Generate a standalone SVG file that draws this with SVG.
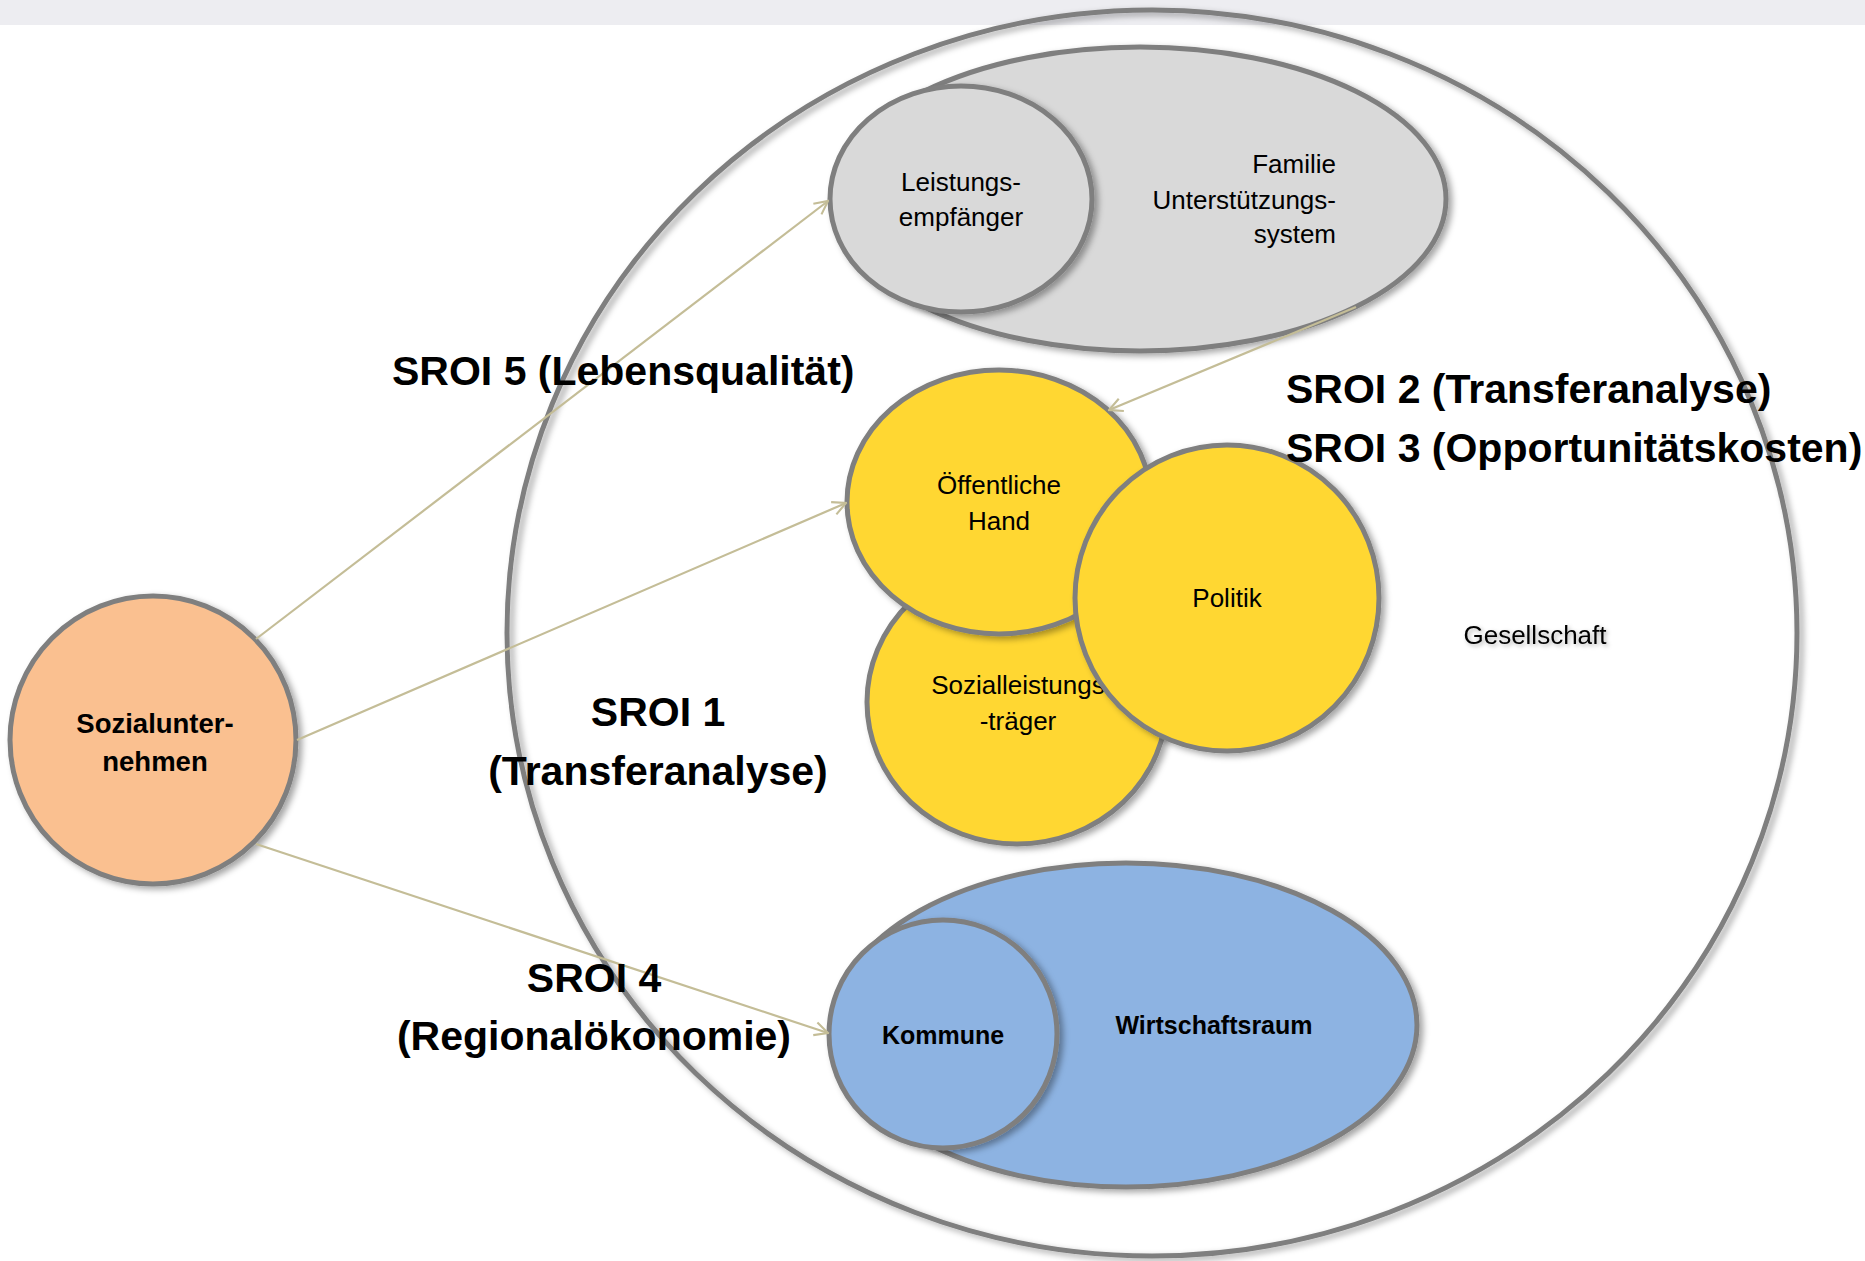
<svg xmlns="http://www.w3.org/2000/svg" width="1865" height="1261" viewBox="0 0 1865 1261">
<defs>
<filter id="sh" x="-10%" y="-10%" width="125%" height="125%">
<feDropShadow dx="4" dy="3" stdDeviation="3" flood-color="#000" flood-opacity="0.35"/>
</filter>
<filter id="tsh" x="-10%" y="-30%" width="125%" height="170%">
<feDropShadow dx="2" dy="2" stdDeviation="2" flood-color="#000" flood-opacity="0.3"/>
</filter>
<marker id="arr" viewBox="0 0 12 12" refX="11" refY="6" markerWidth="16" markerHeight="16" markerUnits="userSpaceOnUse" orient="auto">
<path d="M1,1 L11,6 L1,11" fill="none" stroke="#C4BD97" stroke-width="1.6"/>
</marker>
<style>
.shape{stroke:#7F7F7F;stroke-width:5;filter:url(#sh)}
.gray{fill:#D9D9D9}
.yel{fill:#FFD733}
.blue{fill:#8DB3E2}
.org{fill:#FAC090}
.t{font-family:"Liberation Sans",Arial,sans-serif;font-size:26px;fill:#000;text-anchor:middle}
.b{font-weight:bold}
.big{font-family:"Liberation Sans",Arial,sans-serif;font-size:41px;font-weight:bold;fill:#000}
.con{stroke:#C4BD97;stroke-width:2.2;fill:none;marker-end:url(#arr)}
</style>
</defs>
<rect x="0" y="0" width="1865" height="1261" fill="#FFFFFF"/>
<rect x="0" y="0" width="1865" height="25" fill="#EDEDF1"/>

<g id="gesellschaft">
<ellipse cx="1152" cy="633" rx="645" ry="623" fill="none" class="shape"/>
<text x="1535" y="644" class="t" style="font-size:26px" filter="url(#tsh)">Gesellschaft</text>
</g>

<g id="familie">
<ellipse cx="1140" cy="199" rx="306" ry="152" class="shape gray"/>
<text class="t" style="text-anchor:end" font-size="27"><tspan x="1336" y="173">Familie</tspan><tspan x="1336" y="209">Unterstützungs-</tspan><tspan x="1336" y="243">system</tspan></text>
</g>

<g id="leistungsempfaenger">
<ellipse cx="961" cy="199" rx="131" ry="113" class="shape gray"/>
<text class="t"><tspan x="961" y="191">Leistungs-</tspan><tspan x="961" y="226">empfänger</tspan></text>
</g>

<g id="sozialleistungstraeger">
<ellipse cx="1017" cy="702" rx="150" ry="142" class="shape yel"/>
<text class="t"><tspan x="1018" y="694">Sozialleistungs</tspan><tspan x="1018" y="730">-träger</tspan></text>
</g>

<g id="oeffentliche-hand">
<ellipse cx="999" cy="502" rx="152" ry="132" class="shape yel"/>
<text class="t"><tspan x="999" y="494">Öffentliche</tspan><tspan x="999" y="530">Hand</tspan></text>
</g>

<g id="politik">
<ellipse cx="1227" cy="598" rx="152" ry="153" class="shape yel"/>
<text x="1227" y="607" class="t">Politik</text>
</g>

<g id="wirtschaftsraum">
<ellipse cx="1126" cy="1025" rx="291" ry="162" class="shape blue"/>
<text x="1214" y="1034" class="t b" style="font-size:25px">Wirtschaftsraum</text>
</g>

<g id="kommune">
<ellipse cx="943" cy="1034" rx="114" ry="114" class="shape blue"/>
<text x="943" y="1044" class="t b" style="font-size:25px">Kommune</text>
</g>

<g id="sozialunternehmen">
<ellipse cx="153" cy="740" rx="143" ry="144" class="shape org"/>
<text class="t b" style="font-size:27.5px"><tspan x="155" y="733">Sozialunter-</tspan><tspan x="155" y="771">nehmen</tspan></text>
</g>

<g id="connectors">
<line x1="256" y1="639" x2="828" y2="201" class="con"/>
<line x1="297" y1="740" x2="846" y2="503" class="con"/>
<line x1="256" y1="844" x2="828" y2="1033" class="con"/>
<line x1="1356" y1="307" x2="1109" y2="410" class="con"/>
</g>

<g id="labels">
<text x="392" y="385" class="big">SROI 5 (Lebensqualität)</text>
<text x="1286" y="403" class="big">SROI 2 (Transferanalyse)</text>
<text x="1286" y="462" class="big">SROI 3 (Opportunitätskosten)</text>
<text x="658" y="726" class="big" text-anchor="middle">SROI 1</text>
<text x="658" y="785" class="big" text-anchor="middle">(Transferanalyse)</text>
<text x="594" y="992" class="big" text-anchor="middle">SROI 4</text>
<text x="594" y="1050" class="big" text-anchor="middle">(Regionalökonomie)</text>
</g>
</svg>
